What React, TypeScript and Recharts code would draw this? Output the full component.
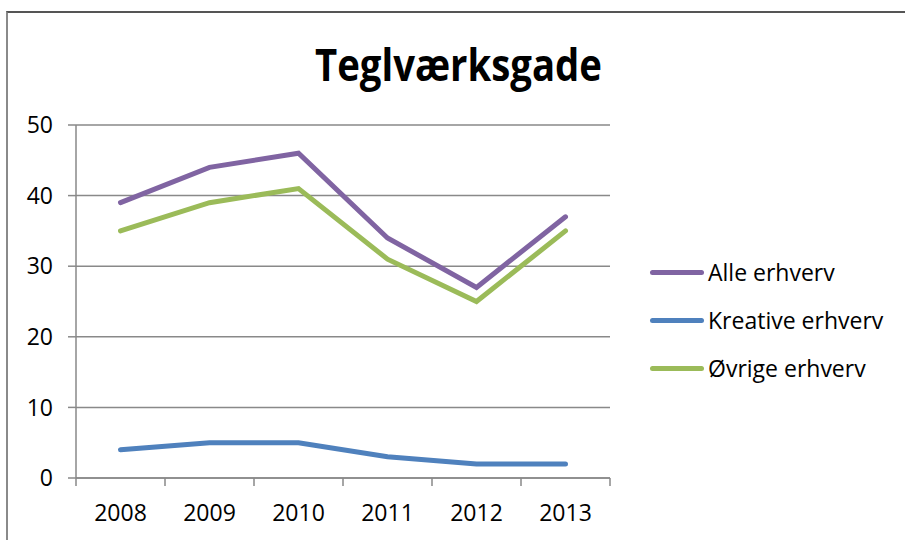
import { LineChart, Line, XAxis, YAxis, CartesianGrid } from 'recharts';

const years = ['2008', '2009', '2010', '2011', '2012', '2013'];
const alleErhverv = [39, 44, 46, 34, 27, 37];
const kreativeErhverv = [4, 5, 5, 3, 2, 2];
const ovrigeErhverv = [35, 39, 41, 31, 25, 35];
const yTicks = [0, 10, 20, 30, 40, 50];

const series = [
  { key: 'alle', name: 'Alle erhverv', color: '#8064A2', values: alleErhverv },
  { key: 'kreative', name: 'Kreative erhverv', color: '#4F81BD', values: kreativeErhverv },
  { key: 'ovrige', name: 'Øvrige erhverv', color: '#9BBB59', values: ovrigeErhverv },
];

// points sit in the middle of each category band, like Excel
const data = years.map((year, i) => {
  const row: Record<string, number | string> = { pos: i + 0.5, year };
  series.forEach((s) => (row[s.key] = s.values[i]));
  return row;
});

const xTicks: number[] = [];
for (let i = 0; i <= years.length * 2; i++) xTicks.push(i / 2);

const FONT = '"Open Sans", "Liberation Sans", sans-serif';
const AXIS = '#898989';

function XTick(props: any) {
  const { x, y, payload } = props;
  const v = payload.value as number;
  if (Number.isInteger(v)) {
    return <line x1={x} x2={x} y1={y} y2={y + 8} stroke={AXIS} strokeWidth={1.5} />;
  }
  return (
    <text x={x} y={y + 43} textAnchor="middle" fill="#000" fontSize={23} fontFamily={FONT}>
      {years[Math.floor(v)]}
    </text>
  );
}

export default function App() {
  return (
    <div style={{ position: 'fixed', left: 0, top: 0, width: 905, height: 540, background: '#fff' }}>
      <div
        style={{
          position: 'absolute',
          left: 6,
          top: 11,
          width: 905,
          height: 540,
          borderTop: '2px solid #555',
          borderLeft: '2px solid #8a8a8a',
        }}
      />
      <svg width={905} height={110} style={{ position: 'absolute', left: 0, top: 0 }}>
        <text
          x={315}
          y={81}
          textLength={287}
          lengthAdjust="spacingAndGlyphs"
          fontSize={45}
          fontWeight="bold"
          fontFamily={FONT}
          fill="#000"
        >
          Teglværksgade
        </text>
      </svg>
      <div style={{ position: 'absolute', left: 0, top: 0 }}>
        <LineChart width={905} height={540} data={data} margin={{ top: 125, right: 295, bottom: 12, left: 16 }}>
          <CartesianGrid vertical={false} stroke={AXIS} strokeWidth={1.5} />
          <XAxis
            dataKey="pos"
            type="number"
            domain={[0, years.length]}
            ticks={xTicks}
            interval={0}
            height={50}
            tickLine={false}
            tickSize={0}
            tickMargin={0}
            axisLine={{ stroke: AXIS, strokeWidth: 1.5 }}
            tick={<XTick />}
          />
          <YAxis
            type="number"
            domain={[0, 50]}
            ticks={yTicks}
            interval={0}
            width={60}
            tickSize={8}
            tickMargin={15}
            tickLine={{ stroke: AXIS, strokeWidth: 1.5 }}
            axisLine={{ stroke: AXIS, strokeWidth: 1.5 }}
            tick={{ fill: '#000', fontSize: 23, fontFamily: FONT }}
          />
          {series.map((s) => (
            <Line
              key={s.key}
              type="linear"
              dataKey={s.key}
              name={s.name}
              stroke={s.color}
              strokeWidth={5}
              strokeLinecap="round"
              dot={false}
              activeDot={false}
              isAnimationActive={false}
            />
          ))}
        </LineChart>
      </div>
      {series.map((s, i) => (
        <div
          key={s.key}
          style={{
            position: 'absolute',
            left: 650,
            top: 272 + i * 48 - 15,
            height: 30,
            display: 'flex',
            alignItems: 'center',
            fontFamily: FONT,
            fontSize: 23,
            color: '#000',
            whiteSpace: 'nowrap',
          }}
        >
          <span style={{ display: 'inline-block', width: 54, height: 5, borderRadius: 3, background: s.color, marginRight: 4 }} />
          {s.name}
        </div>
      ))}
    </div>
  );
}
